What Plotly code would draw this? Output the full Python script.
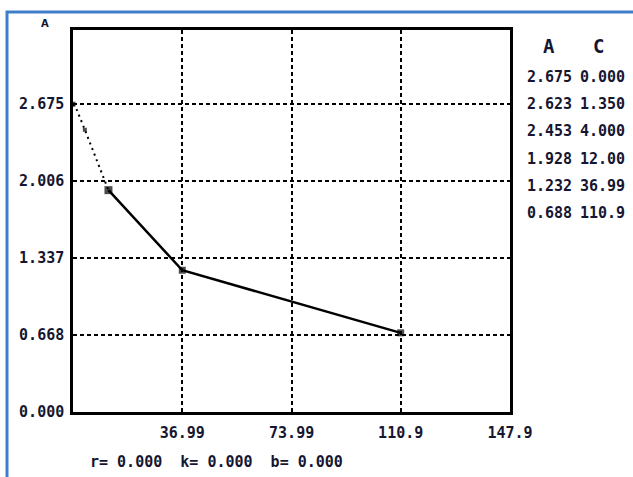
import plotly.graph_objects as go

# Data
conc_c = [0.0, 1.35, 4.0, 12.0, 36.99, 110.9]
absorb_a = [2.675, 2.623, 2.453, 1.928, 1.232, 0.688]
table_a = ["2.675", "2.623", "2.453", "1.928", "1.232", "0.688"]
table_c = ["0.000", "1.350", "4.000", "12.00", "36.99", "110.9"]
x_ticks = [36.99, 73.99, 110.9, 147.9]
x_tick_labels = ["36.99", "73.99", "110.9", "147.9"]
y_ticks = [0.0, 0.668, 1.337, 2.006, 2.675]
y_tick_labels = ["0.000", "0.668", "1.337", "2.006", "2.675"]
fit_text = "r= 0.000  k= 0.000  b= 0.000"

INK = "#161630"
FONT = "DejaVu Sans Mono, Liberation Mono, monospace"

W, H = 633, 477
L, R, T, B = 73, 123, 30, 65
pw, ph = W - L - R, H - T - B

def px(x):
    return (x - L) / pw

def py(y):
    return (H - B - y) / ph

fig = go.Figure()

# dotted low-concentration part
fig.add_trace(go.Scatter(
    x=conc_c[:4], y=absorb_a[:4], mode="lines",
    line=dict(color="black", width=2, dash="2px,4px"),
    showlegend=False, hoverinfo="skip"))
# solid part
fig.add_trace(go.Scatter(
    x=conc_c[3:], y=absorb_a[3:], mode="lines",
    line=dict(color="black", width=2.5),
    showlegend=False, hoverinfo="skip"))
# markers
fig.add_trace(go.Scatter(
    x=conc_c, y=absorb_a, mode="markers",
    marker=dict(symbol="square", color="black",
                size=[5, 0, 4, 8, 7, 7], line=dict(width=0)),
    showlegend=False, hoverinfo="skip"))

axis_common = dict(
    showline=True, linecolor="black", linewidth=2.5, mirror=True,
    showgrid=True, gridcolor="black", gridwidth=2, griddash="4px,3px",
    zeroline=False, ticks="", fixedrange=True,
    tickfont=dict(family=FONT, size=15, color=INK, weight="bold"),
)

fig.update_xaxes(range=[0, 147.9], tickmode="array", tickvals=x_ticks,
                 ticktext=x_tick_labels, ticklabelstandoff=5, **axis_common)
fig.update_yaxes(range=[0, 3.32], tickmode="array", tickvals=y_ticks,
                 ticktext=y_tick_labels, ticklabelstandoff=3, **axis_common)


def note(x, y, text, size=15, family=FONT, xanchor="center"):
    return dict(x=px(x), y=py(y), xref="paper", yref="paper", text=text,
                xanchor=xanchor, yanchor="middle", showarrow=False,
                font=dict(family=family, size=size, color=INK, weight="bold"))


ann = [note(45, 24, "A", size=10, family="DejaVu Sans"),
       note(549, 46, "A", size=19),
       note(598, 46, "C", size=19)]
for i, (a, c) in enumerate(zip(table_a, table_c)):
    yy = 77 + i * 27.2
    ann.append(note(549, yy, a))
    ann.append(note(602, yy, c))
ann.append(note(88, 462, fit_text, xanchor="left"))

shapes = [dict(type="rect", xref="paper", yref="paper",
               x0=px(7), x1=px(645), y0=py(12), y1=py(495),
               line=dict(color="#3f7fca", width=3), layer="below")]

fig.update_layout(
    width=W, height=H, margin=dict(l=L, r=R, t=T, b=B),
    paper_bgcolor="white", plot_bgcolor="white",
    annotations=ann, shapes=shapes, showlegend=False,
)

fig.write_html("out.html", config={"displayModeBar": False},
               post_script="document.body.style.margin='0';document.body.style.overflow='hidden';")
